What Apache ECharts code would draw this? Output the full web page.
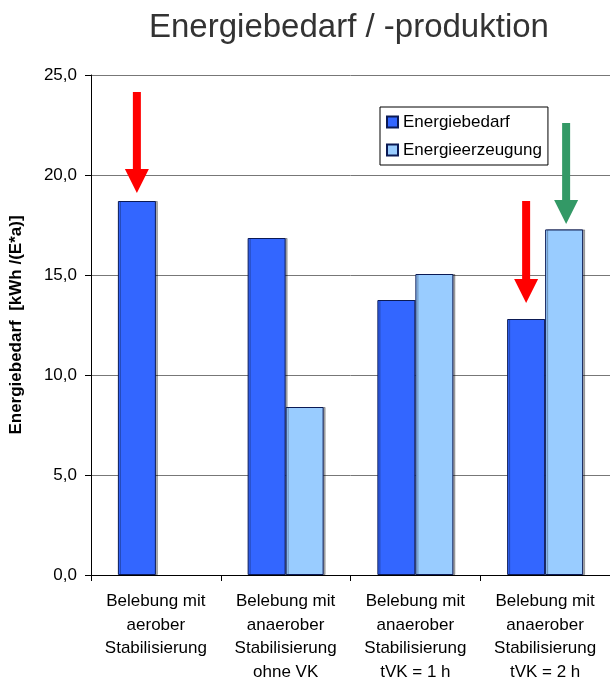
<!DOCTYPE html>
<html>
<head>
<meta charset="utf-8">
<script src="https://cdn.jsdelivr.net/npm/echarts@6/dist/echarts.min.js"></script>
<style>
  html, body { margin: 0; padding: 0; background: #fff; }
  #chart { width: 610px; height: 679px; }
</style>
</head>
<body>
<div id="chart"></div>
<script>
// Verfahrensvarianten (x-Achse)
const categories = [
  'Belebung mit\naerober\nStabilisierung',
  'Belebung mit\nanaerober\nStabilisierung\nohne VK',
  'Belebung mit\nanaerober\nStabilisierung\ntVK = 1 h',
  'Belebung mit\nanaerober\nStabilisierung\ntVK = 2 h'
];
// kWh/(E*a)
const energiebedarf = [18.7, 16.85, 13.75, 12.8];
const energieerzeugung = [null, 8.4, 15.05, 17.28];
const yTicks = [0, 5, 10, 15, 20, 25];

// Hinweispfeile: Kategorie, Reihe (0 = Bedarf, 1 = Erzeugung), Anfang und Spitze in kWh/(E*a)
const arrowCategory = [0, 3, 3];
const arrowSeries = [0, 0, 1];
const arrowFrom = [24.15, 18.7, 22.6];
const arrowTo = [19.1, 13.6, 17.55];
const arrowColor = ['#FF0000', '#FF0000', '#339966'];

const BAR_W = 38;
const FONT = 'Liberation Sans, Arial, sans-serif';

const chart = echarts.init(document.getElementById('chart'), null, { renderer: 'canvas' });

const barStyle = (fill) => ({
  color: fill,
  borderColor: '#0b1a55',
  borderWidth: 1,
  shadowColor: 'rgba(0,0,0,0.3)',
  shadowOffsetX: 2,
  shadowOffsetY: 0,
  shadowBlur: 0
});

chart.setOption({
  animation: false,
  backgroundColor: '#fff',
  title: {
    text: 'Energiebedarf / -produktion',
    left: 144,
    top: 6,
    textStyle: { fontFamily: FONT, fontSize: 33, fontWeight: 'normal', color: '#333' }
  },
  legend: {
    orient: 'vertical',
    left: 380,
    top: 107,
    padding: [6, 6, 6, 6],
    borderColor: '#000',
    borderWidth: 1,
    itemWidth: 11,
    itemHeight: 11,
    itemGap: 10,
    icon: 'rect',
    textStyle: { fontFamily: FONT, fontSize: 17, color: '#000', lineHeight: 18 },
    data: ['Energiebedarf', 'Energieerzeugung']
  },
  grid: { left: 91, right: 0, top: 75, bottom: 104, containLabel: false, outerBoundsMode: 'none' },
  xAxis: {
    type: 'category',
    data: categories,
    axisLine: { lineStyle: { color: '#000', width: 1 } },
    axisTick: { show: true, length: 6, alignWithLabel: false, lineStyle: { color: '#000' } },
    axisLabel: {
      interval: 0,
      margin: 15,
      fontFamily: FONT,
      fontSize: 17,
      lineHeight: 23.5,
      color: '#000',
      align: 'center'
    }
  },
  yAxis: {
    type: 'value',
    min: 0,
    max: 25,
    interval: 5,
    name: 'Energiebedarf  [kWh /(E*a)]',
    nameLocation: 'middle',
    nameRotate: 90,
    nameGap: 66,
    nameTextStyle: { fontFamily: FONT, fontSize: 17, fontWeight: 'bold', color: '#000' },
    axisLine: { show: true, lineStyle: { color: '#000' } },
    axisTick: { show: true, length: 6, lineStyle: { color: '#000' } },
    axisLabel: {
      margin: 14,
      fontFamily: FONT,
      fontSize: 17,
      color: '#000',
      formatter: (v) => yTicks.includes(v) ? v.toFixed(1).replace('.', ',') : ''
    },
    splitLine: { show: true, lineStyle: { color: '#777', width: 1 } }
  },
  series: [
    {
      name: 'Energiebedarf',
      type: 'bar',
      data: energiebedarf,
      barWidth: BAR_W,
      barGap: '0%',
      itemStyle: barStyle('#3366FF')
    },
    {
      name: 'Energieerzeugung',
      type: 'bar',
      data: energieerzeugung,
      barWidth: BAR_W,
      barGap: '0%',
      itemStyle: barStyle('#99CCFF')
    }
  ]
});

// Pfeile über den Balken, Lage aus den Achsen umgerechnet
function drawArrows() {
  const shaft = 8, headW = 24, headH = 24;
  const elements = arrowCategory.map((cat, i) => {
    const top = chart.convertToPixel({ gridIndex: 0 }, [cat, arrowFrom[i]]);
    const tip = chart.convertToPixel({ gridIndex: 0 }, [cat, arrowTo[i]]);
    const cx = top[0] + (arrowSeries[i] === 0 ? -BAR_W / 2 : BAR_W / 2) + (arrowSeries[i] === 0 ? 0 : 2);
    const y0 = top[1], y1 = tip[1], yh = y1 - headH;
    return {
      type: 'polygon',
      shape: {
        points: [
          [cx - shaft / 2, y0], [cx + shaft / 2, y0], [cx + shaft / 2, yh],
          [cx + headW / 2, yh], [cx, y1], [cx - headW / 2, yh], [cx - shaft / 2, yh]
        ]
      },
      style: { fill: arrowColor[i] },
      z: 10
    };
  });
  chart.setOption({ graphic: { elements } });
}
drawArrows();
</script>
</body>
</html>
